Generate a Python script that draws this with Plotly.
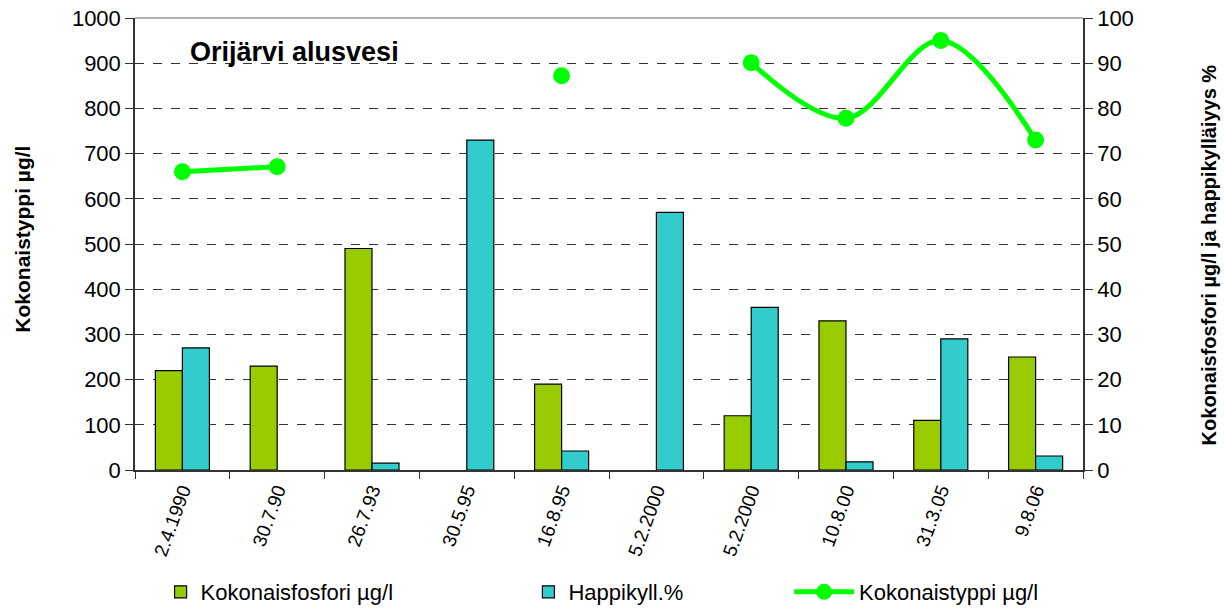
import plotly.graph_objects as go

dates = ["2.4.1990", "30.7.90", "26.7.93", "30.5.95", "16.8.95",
         "5.2.2000", "5.2.2000", "10.8.00", "31.3.05", "9.8.06"]
fosfori = [22, 23, 49, None, 19, None, 12, 33, 11, 25]          # µg/l (right axis)
happi = [27, None, 1.5, 73, 4.2, 57, 36, 1.8, 29, 3.1]          # % (right axis)
typpi = [660, 671, None, None, 872, None, 901, 778, 950, 730]   # µg/l (left axis)

xs = list(range(len(dates)))
FONT = "Liberation Sans, Arial, sans-serif"

fig = go.Figure()
fig.add_trace(go.Bar(
    x=xs, y=fosfori, name="Kokonaisfosfori µg/l", yaxis="y2",
    marker=dict(color="#99CC00", line=dict(color="#000000", width=1.2)),
    legend="legend"))
fig.add_trace(go.Bar(
    x=xs, y=happi, name="Happikyll.%", yaxis="y2",
    marker=dict(color="#33CCCC", line=dict(color="#000000", width=1.2)),
    legend="legend2"))
fig.add_trace(go.Scatter(
    x=xs, y=typpi, name="Kokonaistyppi µg/l", yaxis="y",
    mode="lines+markers", connectgaps=False,
    line=dict(color="#00FF00", width=5, shape="spline", smoothing=1),
    marker=dict(color="#00FF00", size=17),
    legend="legend3"))

fig.update_layout(
    width=1224, height=612,
    margin=dict(l=135, r=141, t=18, b=142, autoexpand=False),
    paper_bgcolor="white", plot_bgcolor="white",
    barmode="group", bargap=0.43, bargroupgap=0,
    font=dict(family=FONT, color="black", size=18),
    xaxis=dict(
        range=[-0.5, 9.5], tickmode="array", tickvals=xs, ticktext=dates,
        tickangle=-70, ticks="", tickfont=dict(size=19), automargin=False,
        showline=True, linecolor="#333333", linewidth=1.5, showgrid=False,
        zeroline=False,
        minor=dict(tickmode="array", tickvals=[i - 0.5 for i in range(11)],
                   ticks="outside", ticklen=7, tickcolor="#333333", tickwidth=1.2),
    ),
    yaxis=dict(
        range=[0, 1000], tickmode="linear", tick0=0, dtick=100,
        ticks="outside", ticklen=8, tickcolor="#333333", tickwidth=1.2,
        tickfont=dict(size=22), automargin=False, ticklabeloverflow="allow",
        showline=True, linecolor="#333333", linewidth=1.5,
        showgrid=True, gridcolor="#333333", griddash="dash", gridwidth=1,
        zeroline=False,
    ),
    yaxis2=dict(
        range=[0, 100], tickmode="linear", tick0=0, dtick=10,
        overlaying="y", side="right",
        ticks="outside", ticklen=8, tickcolor="#333333", tickwidth=1.2,
        tickfont=dict(size=22), automargin=False, ticklabeloverflow="allow",
        showline=True, linecolor="#333333", linewidth=1.5,
        showgrid=False, zeroline=False,
    ),
    legend=dict(orientation="h", x=0.027, y=-0.27, xanchor="left", yanchor="middle",
                font=dict(size=22), bgcolor="rgba(0,0,0,0)"),
    legend2=dict(orientation="h", x=0.415, y=-0.27, xanchor="left", yanchor="middle",
                 font=dict(size=22), bgcolor="rgba(0,0,0,0)"),
    legend3=dict(orientation="h", x=0.69, y=-0.27, xanchor="left", yanchor="middle",
                 font=dict(size=22), bgcolor="rgba(0,0,0,0)", itemwidth=60),
    showlegend=True,
)

# top border of plot area
fig.add_shape(type="line", xref="paper", yref="paper", x0=0, x1=1, y0=1, y1=1,
              line=dict(color="#999999", width=1.5))

fig.add_annotation(text="<b>Orijärvi alusvesi</b>", xref="paper", yref="paper",
                   x=0.168, y=0.925, xanchor="center", yanchor="middle",
                   showarrow=False, font=dict(size=27, family=FONT))
fig.add_annotation(text="<b>Kokonaistyppi µg/l</b>", xref="paper", yref="paper",
                   x=-0.119, y=0.51, xanchor="center", yanchor="middle", textangle=-90,
                   showarrow=False, font=dict(size=21, family=FONT))
fig.add_annotation(text="<b>Kokonaisfosfori µg/l ja happikylläiyys %</b>",
                   xref="paper", yref="paper",
                   x=1.133, y=0.475, xanchor="center", yanchor="middle", textangle=-90,
                   showarrow=False, font=dict(size=20, family=FONT))

# remove the default page margin so the 1224x612 figure fills the window exactly
fig.write_html("out.html", config={"displayModeBar": False},
               post_script="document.body.style.margin='0';document.body.style.overflow='hidden';")
